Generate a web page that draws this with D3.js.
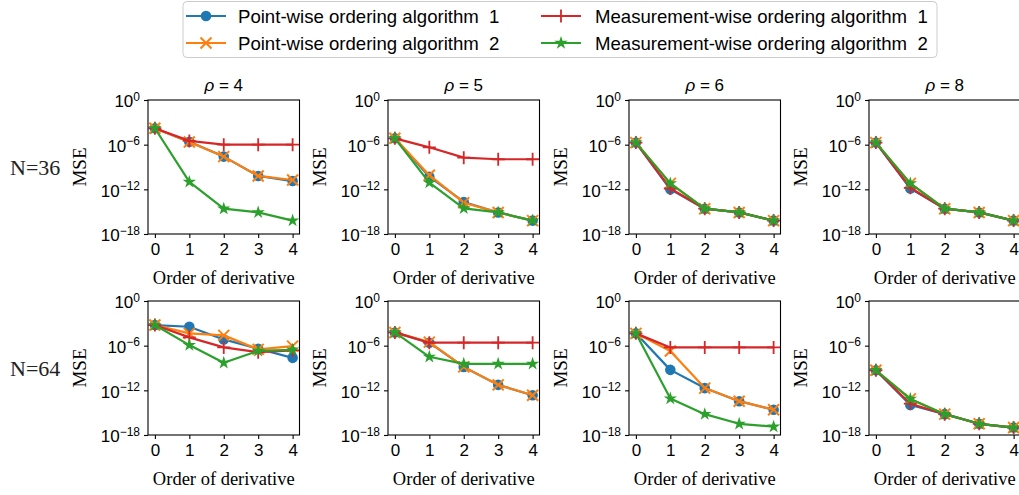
<!DOCTYPE html>
<html>
<head>
<meta charset="utf-8">
<script src="https://cdn.jsdelivr.net/npm/d3@7"></script>
<style>
  body { margin: 0; background: #fff; }
  svg { display: block; }
</style>
</head>
<body>
<div id="chart"></div>
<script>
// Order of derivative (x axis)
const orders = [0, 1, 2, 3, 4];
const rhoLabels = ["4", "5", "6", "8"];
const rowLabels = ["N=36", "N=64"];
const seriesNames = [
  "Point-wise ordering algorithm  1",
  "Point-wise ordering algorithm  2",
  "Measurement-wise ordering algorithm  1",
  "Measurement-wise ordering algorithm  2"
];
const yTicks = [1e0, 1e-6, 1e-12, 1e-18];

// MSE values, one inner array per rho (4, 5, 6, 8)
const pointwise1_N36 = [
  [1.6e-4, 2.5e-6, 2.5e-8, 6.3e-11, 1.3e-11],
  [7.1e-6, 5.0e-11, 2.0e-14, 7.9e-16, 6.3e-17],
  [1.9e-6, 1.0e-12, 2.5e-15, 7.9e-16, 6.3e-17],
  [1.9e-6, 1.3e-12, 2.5e-15, 7.9e-16, 6.3e-17]
];
const pointwise2_N36 = [
  [1.6e-4, 2.3e-6, 2.5e-8, 6.3e-11, 1.8e-11],
  [7.1e-6, 7.9e-11, 1.6e-14, 7.9e-16, 6.3e-17],
  [1.9e-6, 6.3e-12, 2.5e-15, 7.9e-16, 6.3e-17],
  [1.9e-6, 6.3e-12, 2.5e-15, 7.9e-16, 6.3e-17]
];
const measwise1_N36 = [
  [1.6e-4, 3.2e-6, 1.0e-6, 1.0e-6, 1.0e-6],
  [7.1e-6, 4.4e-7, 1.8e-8, 1.1e-8, 1.1e-8],
  [1.9e-6, 1.3e-12, 2.5e-15, 7.9e-16, 6.3e-17],
  [1.9e-6, 1.6e-12, 2.5e-15, 7.9e-16, 6.3e-17]
];
const measwise2_N36 = [
  [1.6e-4, 1.0e-11, 2.5e-15, 7.9e-16, 6.3e-17],
  [7.1e-6, 7.9e-12, 2.8e-15, 7.9e-16, 6.3e-17],
  [1.9e-6, 6.3e-12, 2.5e-15, 7.9e-16, 6.3e-17],
  [1.9e-6, 6.3e-12, 2.5e-15, 7.9e-16, 6.3e-17]
];
const pointwise1_N64 = [
  [5.9e-4, 3.5e-4, 6.9e-6, 3.8e-7, 2.3e-8],
  [6.0e-5, 2.5e-6, 1.4e-9, 5.4e-12, 2.2e-13],
  [4.5e-5, 5.6e-10, 2.0e-12, 3.5e-14, 2.5e-15],
  [5.0e-10, 1.1e-14, 6.3e-16, 3.2e-17, 1.0e-17]
];
const pointwise2_N64 = [
  [5.9e-4, 4.5e-5, 2.4e-5, 3.2e-7, 8.7e-7],
  [6.0e-5, 3.0e-6, 1.4e-9, 5.4e-12, 2.2e-13],
  [4.5e-5, 1.9e-7, 2.0e-12, 3.5e-14, 2.5e-15],
  [5.0e-10, 7.1e-14, 6.3e-16, 3.2e-17, 1.0e-17]
];
const measwise1_N64 = [
  [5.9e-4, 1.3e-5, 5.8e-7, 1.3e-7, 2.3e-7],
  [6.0e-5, 2.5e-6, 2.5e-6, 2.5e-6, 2.5e-6],
  [4.5e-5, 5.8e-7, 5.8e-7, 5.8e-7, 5.8e-7],
  [5.0e-10, 1.6e-14, 6.3e-16, 3.2e-17, 1.0e-17]
];
const measwise2_N64 = [
  [5.9e-4, 1.2e-6, 5.0e-9, 2.0e-7, 2.8e-7],
  [6.0e-5, 3.2e-8, 3.6e-9, 3.6e-9, 3.6e-9],
  [4.5e-5, 7.9e-14, 6.3e-16, 3.2e-17, 1.3e-17],
  [5.0e-10, 7.1e-14, 6.3e-16, 3.2e-17, 1.0e-17]
];

const rows = [
  [pointwise1_N36, pointwise2_N36, measwise1_N36, measwise2_N36],
  [pointwise1_N64, pointwise2_N64, measwise1_N64, measwise2_N64]
];

const colors = ["#1f77b4", "#ff7f0e", "#d62728", "#2ca02c"];
const sans = "'Liberation Sans', Arial, sans-serif";
const serif = "'Liberation Serif', 'Times New Roman', serif";

const width = 1019, height = 495;
const panelLefts = [148, 388, 629, 869];
const panelTops = [100, 301];
const pw = 151.5, ph = 134;

const svg = d3.select("#chart").append("svg")
  .attr("width", width)
  .attr("height", height)
  .attr("viewBox", `0 0 ${width} ${height}`);

const x = d3.scaleLinear().domain([-0.2, 4.2]).range([0, pw]);
const y = d3.scaleLog().domain([1e-18, 1e0]).range([ph, 0]);

// marker drawing per series
function drawMarker(sel, i) {
  if (i === 0) {
    sel.append("path").attr("d", d3.symbol(d3.symbolCircle, 88)())
      .attr("fill", colors[0]);
  } else if (i === 1) {
    sel.append("path").attr("d", "M-5.5,-5.5L5.5,5.5M-5.5,5.5L5.5,-5.5")
      .attr("stroke", colors[1]).attr("stroke-width", 2).attr("fill", "none");
  } else if (i === 2) {
    sel.append("path").attr("d", "M-6.5,0L6.5,0M0,-6.5L0,6.5")
      .attr("stroke", colors[2]).attr("stroke-width", 1.8).attr("fill", "none");
  } else {
    sel.append("path").attr("d", d3.symbol(d3.symbolStar, 55)())
      .attr("fill", colors[3]);
  }
}

const line = d3.line().x((d, i) => x(orders[i])).y(d => y(d));

rows.forEach((series, r) => {
  rhoLabels.forEach((rho, c) => {
    const g = svg.append("g")
      .attr("transform", `translate(${panelLefts[c]},${panelTops[r]})`);

    // Series lines + markers
    series.forEach((s, i) => {
      const vals = s[c];
      const sg = g.append("g");
      sg.append("path")
        .attr("d", line(vals))
        .attr("fill", "none")
        .attr("stroke", colors[i])
        .attr("stroke-width", 2.2)
        .attr("stroke-linejoin", "round");
      vals.forEach((v, j) => {
        const m = sg.append("g").attr("transform", `translate(${x(orders[j])},${y(v)})`);
        drawMarker(m, i);
      });
    });

    // Frame
    g.append("rect")
      .attr("width", pw).attr("height", ph)
      .attr("fill", "none").attr("stroke", "#000").attr("stroke-width", 1.1);

    // Y axis
    const ya = g.append("g")
      .call(d3.axisLeft(y).tickValues(yTicks).tickSize(4).tickPadding(3).tickFormat(""));
    ya.select(".domain").remove();
    ya.selectAll(".tick line").attr("stroke-width", 1.1);
    ya.selectAll(".tick").each(function(d) {
      const t = d3.select(this).append("text")
        .attr("x", -8).attr("dy", "0.4em")
        .attr("text-anchor", "end")
        .attr("fill", "#000")
        .style("font-family", sans)
        .style("font-size", "17px");
      const e = Math.round(Math.log10(d));
      t.append("tspan").text("10");
      t.append("tspan").attr("dy", "-0.55em").style("font-size", "12px")
        .text(e < 0 ? "\u2212" + (-e) : String(e));
    });

    // X axis
    const xa = g.append("g")
      .attr("transform", `translate(0,${ph})`)
      .call(d3.axisBottom(x).tickValues(orders).tickSize(4).tickPadding(5).tickFormat(d3.format("d")));
    xa.select(".domain").remove();
    xa.selectAll(".tick line").attr("stroke-width", 1.1);
    xa.selectAll(".tick text")
      .style("font-family", sans)
      .style("font-size", "17px")
      .attr("fill", "#000");

    // Axis labels
    g.append("text")
      .attr("x", pw / 2).attr("y", ph + 50)
      .attr("text-anchor", "middle")
      .style("font-family", serif).style("font-size", "18.5px")
      .text("Order of derivative");

    g.append("text")
      .attr("transform", `translate(-69,${ph / 2}) rotate(-90)`)
      .attr("text-anchor", "middle").attr("dy", "0.35em")
      .style("font-family", serif).style("font-size", "19px")
      .text("MSE");

    // Column titles on the first row
    if (r === 0) {
      const t = g.append("text")
        .attr("x", pw / 2).attr("y", -9)
        .attr("text-anchor", "middle")
        .style("font-family", sans).style("font-size", "17px")
        .style("white-space", "pre");
      t.append("tspan").style("font-style", "italic").text("\u03c1");
      t.append("tspan").text(" = " + rho);
    }
  });

  // Row label
  svg.append("text")
    .attr("x", 10).attr("y", panelTops[r] + ph / 2 + 8)
    .style("font-family", serif).style("font-size", "22px")
    .attr("fill", "#222")
    .text(rowLabels[r]);
});

// Legend
const legend = svg.append("g");
legend.append("rect")
  .attr("x", 183).attr("y", 1.5).attr("width", 754).attr("height", 56)
  .attr("rx", 4).attr("fill", "#fff").attr("stroke", "#cccccc").attr("stroke-width", 1);

const legendPos = [[186, 16], [186, 43], [541, 16], [541, 43]];
seriesNames.forEach((name, i) => {
  const [lx, ly] = legendPos[i];
  const lg = legend.append("g").attr("transform", `translate(${lx},${ly})`);
  lg.append("line").attr("x1", 0).attr("x2", 40).attr("y1", 0).attr("y2", 0)
    .attr("stroke", colors[i]).attr("stroke-width", 2.2);
  drawMarker(lg.append("g").attr("transform", "translate(20,0)"), i);
  lg.append("text")
    .attr("x", i < 2 ? 52 : 54).attr("y", 0).attr("dy", "0.36em")
    .style("font-family", sans).style("font-size", "18.6px")
    .style("white-space", "pre")
    .text(name);
});
</script>
</body>
</html>
